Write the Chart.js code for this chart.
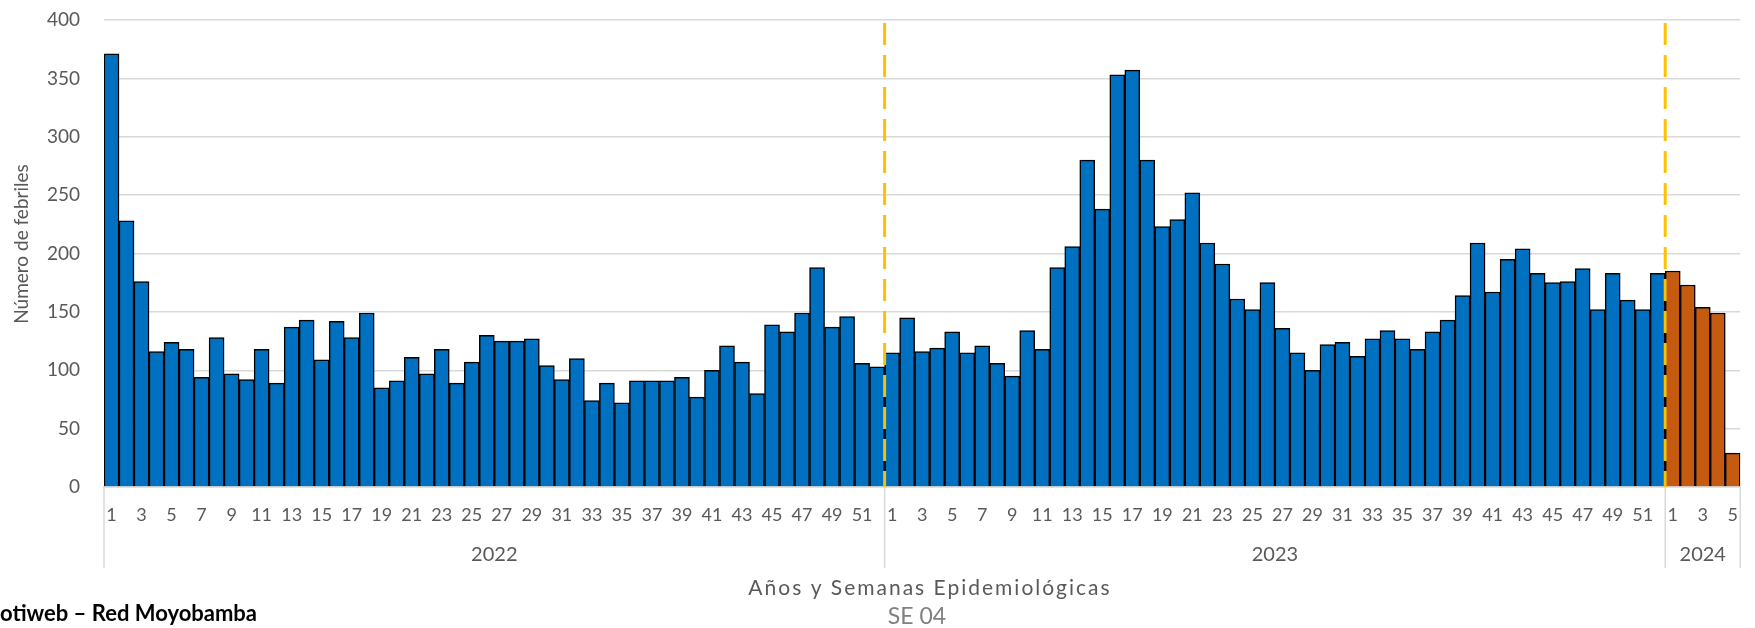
<!DOCTYPE html>
<html>
<head>
<meta charset="utf-8">
<script src="https://cdn.jsdelivr.net/npm/chart.js@4"></script>
<style>
  html, body { margin: 0; padding: 0; background: #fff; }
  #wrap { width: 1755px; height: 628px; position: relative; }
</style>
</head>
<body>
<div id="wrap"><canvas id="febrilesChart"></canvas></div>
<script>
// febriles por semana epidemiologica
const years = ['2022', '2023', '2024'];
const weeks2022 = [371, 228, 176, 116, 124, 118, 94, 128, 97, 92, 118, 89, 137, 143, 109, 142, 128, 149, 85, 91,
    111, 97, 118, 89, 107, 130, 125, 125, 127, 104, 92, 110, 74, 89, 72, 91, 91, 91, 94, 77,
    100, 121, 107, 80, 139, 133, 149, 188, 137, 146, 106, 103];
const weeks2023 = [115, 145, 116, 119, 133, 115, 121, 106, 95, 134, 118, 188, 206, 280, 238, 353, 357, 280, 223, 229,
    252, 209, 191, 161, 152, 175, 136, 115, 100, 122, 124, 112, 127, 134, 127, 118, 133, 143, 164, 209,
    167, 195, 204, 183, 175, 176, 187, 152, 183, 160, 152, 183];
const weeks2024 = [185, 173, 154, 149, 29];
const yTicks = [0, 50, 100, 150, 200, 250, 300, 350, 400];

const groups = [weeks2022, weeks2023, weeks2024];
const labels = [];
const values = [];
const colors = [];
groups.forEach((g, gi) => {
    g.forEach((v, i) => {
        labels.push(String(i + 1));
        values.push(v);
        colors.push(gi === 2 ? '#C55A11' : '#0070C0');
    });
});

const FONT = 'Lato, "Open Sans", sans-serif';
const GREY = '#595959';

const extras = {
    id: 'extras',
    afterDatasetsDraw(chart) {
        const { ctx, chartArea, scales: { x } } = chart;
        ctx.save();
        ctx.strokeStyle = '#FFC000';
        ctx.lineWidth = 3;
        ctx.setLineDash([22, 10]);
        let start = 0;
        for (let gi = 0; gi < groups.length - 1; gi++) {
            start += groups[gi].length;
            const bx = (x.getPixelForValue(start - 1) + x.getPixelForValue(start)) / 2;
            ctx.beginPath();
            ctx.moveTo(bx, chartArea.top + 3);
            ctx.lineTo(bx, chartArea.bottom);
            ctx.stroke();
        }
        ctx.restore();
    },
    afterDraw(chart) {
        const { ctx, chartArea, scales: { x } } = chart;
        ctx.save();
        // separadores de grupo y etiquetas de año
        const edges = [chartArea.left];
        let start = 0;
        groups.forEach((g, gi) => {
            start += g.length;
            edges.push(gi === groups.length - 1 ? chartArea.right
                : (x.getPixelForValue(start - 1) + x.getPixelForValue(start)) / 2);
        });
        ctx.strokeStyle = '#d9d9d9';
        ctx.lineWidth = 1.5;
        edges.forEach(e => {
            ctx.beginPath();
            ctx.moveTo(e, chartArea.bottom);
            ctx.lineTo(e, 568);
            ctx.stroke();
        });
        ctx.fillStyle = GREY;
        ctx.font = '20px ' + FONT;
        ctx.textAlign = 'center';
        ctx.textBaseline = 'middle';
        years.forEach((yr, gi) => {
            ctx.fillText(yr, (edges[gi] + edges[gi + 1]) / 2, 555);
        });

        // titulo eje x
        ctx.font = '21px ' + FONT;
        ctx.letterSpacing = '2px';
        ctx.fillText('Años y Semanas Epidemiológicas', 930, 588);
        ctx.letterSpacing = '0px';
        ctx.fillStyle = '#808080';
        ctx.font = '23px ' + FONT;
        ctx.fillText('SE 04', 917, 617);

        // titulo eje y
        ctx.save();
        ctx.translate(22, 244);
        ctx.rotate(-Math.PI / 2);
        ctx.fillStyle = GREY;
        ctx.font = '19px ' + FONT;
        ctx.fillText('Número de febriles', 0, 0);
        ctx.restore();

        // fuente
        ctx.fillStyle = '#000';
        ctx.font = 'bold 22px ' + FONT;
        ctx.textAlign = 'left';
        ctx.fillText('otiweb – Red Moyobamba', 0, 614);
        ctx.restore();
    }
};

new Chart(document.getElementById('febrilesChart'), {
    type: 'bar',
    data: {
        labels: labels,
        datasets: [{
            data: values,
            backgroundColor: colors,
            borderColor: '#000',
            borderWidth: 1.5,
            barPercentage: 1,
            categoryPercentage: 1
        }]
    },
    options: {
        responsive: true,
        maintainAspectRatio: false,
        animation: false,
        layout: { padding: { left: 0, right: 2, top: 20, bottom: 0 } },
        plugins: {
            legend: { display: false },
            tooltip: { enabled: false }
        },
        scales: {
            x: {
                grid: { display: false, drawTicks: false },
                border: { display: true, color: '#d9d9d9', width: 1.5 },
                ticks: {
                    autoSkip: false,
                    maxRotation: 0,
                    padding: 17,
                    color: GREY,
                    font: { family: FONT, size: 18 },
                    callback: (v, i) => (Number(labels[i]) % 2 === 1 ? labels[i] : '')
                },
                afterFit: s => { s.height = 141; }
            },
            y: {
                min: 0,
                max: 400,
                afterBuildTicks: s => { s.ticks = yTicks.map(v => ({ value: v })); },
                grid: { color: '#d9d9d9', lineWidth: 1.5, drawTicks: false },
                border: { display: false },
                ticks: {
                    padding: 24,
                    color: GREY,
                    font: { family: FONT, size: 19 }
                },
                afterFit: s => {
                    s.width = 104;
                    s.paddingTop = 0;
                    s.paddingBottom = 0;
                }
            }
        }
    },
    plugins: [extras]
});
</script>
</body>
</html>
